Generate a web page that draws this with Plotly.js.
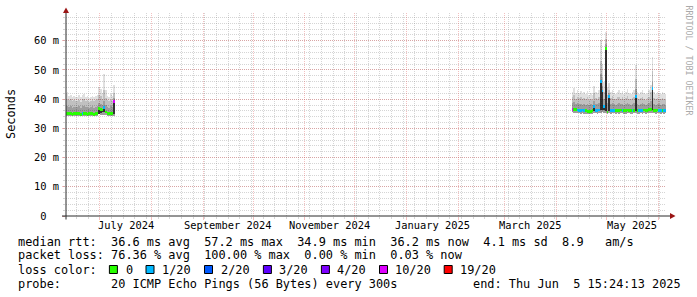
<!DOCTYPE html>
<html><head><meta charset="utf-8">
<script src="https://cdn.plot.ly/plotly-3.0.1.min.js"></script>
<style>html,body{margin:0;padding:0;background:#fff}</style>
</head><body><div id="chart" style="width:697px;height:297px"></div>
<script>
// ---------- DATA (milliseconds, daily bins) ----------
const seg1Start = '2024-06-10';
const seg2Start = '2025-04-10';

const median1 = [35.1,35.0,35.0,35.1,34.9,35.0,35.0,35.1,35.0,34.9,35.2,35.0,35.0,34.9,35.0,35.1,35.0,34.9,35.0,35.1,36.7,36.5,36.3,37.3,35.6,35.1,35.0,35.1,35.1,39.2];
const loss1   = [0,0,0,0,0,0,0,0,0,0,1,0,0,0,0,0,0,0,0,0,0,0,0,1,0,0,0,0,0,5];
const min1    = [34.2,34.2,34.2,34.3,34.2,34.2,34.2,34.3,34.2,34.2,34.3,34.2,34.2,34.2,34.2,34.3,34.2,34.2,34.2,34.3,34.8,34.7,34.6,34.6,34.5,34.4,34.3,34.3,34.3,34.4];
const low1    = [37.5,37.8,37.3,37.6,37.1,37.4,37.2,37.3,37.5,37.0,37.6,37.8,37.2,37.3,37.0,37.2,37.5,37.1,37.3,37.6,38.8,38.5,38.0,39.5,38.0,37.3,37.1,37.5,37.3,40.5];
const mid1    = [39.8,40.2,39.6,39.9,39.3,39.7,39.4,39.5,39.8,39.2,39.9,40.1,39.4,39.6,39.2,39.5,39.8,39.3,39.6,39.9,41.5,41.0,40.2,43.0,40.5,39.6,39.3,39.8,39.5,42.0];
const max1    = [41.6,42.4,41.1,41.3,40.8,41.2,40.6,40.9,41.3,40.7,41.4,41.9,40.8,41.0,40.5,40.9,41.2,40.7,41.0,41.5,44.0,43.5,42.2,48.6,43.0,41.2,40.8,41.6,41.0,44.8];
const coreLo1 = [34.6,34.5,34.5,34.6,34.4,34.5,34.5,34.6,34.5,34.4,34.7,34.5,34.5,34.4,34.5,34.6,34.5,34.4,34.5,34.6,35.0,35.4,35.6,35.5,35.1,34.6,34.5,34.6,34.6,35.0];
const coreHi1 = [35.5,35.4,35.4,35.5,35.3,35.4,35.4,35.5,35.4,35.3,35.6,35.4,35.4,35.3,35.4,35.5,35.4,35.3,35.4,35.5,37.0,36.9,36.7,37.6,36.0,35.5,35.4,35.5,35.5,39.5];

const median2 = [36.6,36.5,36.4,36.3,36.2,36.1,36.3,36.0,36.0,35.8,35.9,35.8,36.0,37.6,36.2,36.1,36.3,45.9,42.8,37.4,57.2,35.6,41.0,36.0,36.1,36.2,36.0,36.2,36.1,36.3,36.2,36.0,36.1,36.3,36.2,36.0,36.1,36.2,41.0,36.0,36.1,36.2,36.0,36.3,36.1,36.2,36.4,36.6,43.7,36.2,36.1,36.3,36.2,36.0,36.2,36.1,36.2];
const loss2   = [5,0,0,1,1,1,1,1,0,0,0,0,0,1,1,1,1,1,1,1,0,0,1,1,1,1,0,0,0,0,1,0,0,0,0,0,1,0,1,0,1,1,1,0,0,0,0,0,1,0,0,0,1,1,0,1,1];
const min2    = [35.6,35.4,35.3,35.2,35.1,35.0,35.2,35.0,34.9,34.8,34.9,34.8,34.9,35.2,35.1,35.0,35.2,35.4,35.5,35.3,35.3,34.9,35.2,35.0,35.1,35.1,35.0,35.1,35.0,35.2,35.1,35.0,35.0,35.2,35.1,35.0,35.0,35.1,35.2,35.0,35.0,35.1,35.0,35.2,35.0,35.1,35.2,35.3,35.3,35.1,35.0,35.2,35.1,35.0,35.1,35.0,35.1];
const low2    = [38.6,38.9,38.3,38.6,38.3,38.5,38.0,38.4,38.0,38.3,37.9,38.2,38.0,39.5,38.4,38.2,38.6,48.5,44.5,40.0,58.8,38.6,42.0,38.3,38.7,38.2,38.0,38.5,38.6,38.2,38.5,38.0,38.3,38.8,38.2,38.0,38.4,38.6,43.5,38.3,38.1,38.4,38.6,38.2,37.9,38.3,38.7,39.5,46.0,38.4,38.1,38.5,38.2,38.0,38.4,38.2,38.1];
const mid2    = [40.6,41.5,40.2,40.9,40.3,40.7,39.9,40.5,40.0,40.8,39.7,40.2,39.8,42.0,40.4,40.1,40.9,53.0,47.5,42.5,60.5,41.5,43.0,40.5,41.0,40.1,40.0,40.6,40.9,40.1,40.7,39.9,40.4,41.2,40.1,40.0,40.5,40.9,47.0,40.3,40.0,40.5,40.9,40.1,39.8,40.3,40.9,42.5,49.5,40.4,40.0,40.5,40.1,40.0,40.5,40.1,40.0];
const max2    = [42.5,43.8,42.0,43.0,42.2,42.8,41.6,42.5,41.8,42.9,41.4,42.1,41.5,44.5,42.3,42.0,43.0,60.2,52.0,46.0,63.0,44.0,45.5,42.5,43.2,42.0,41.8,42.6,43.0,42.0,42.8,41.7,42.4,43.5,42.0,41.8,42.6,43.0,51.7,42.3,41.8,42.5,43.1,42.0,41.6,42.2,43.0,45.0,54.5,42.4,41.9,42.5,42.0,41.8,42.6,42.0,41.8];
const coreLo2 = [36.1,36.0,35.9,35.8,35.7,35.6,35.8,35.5,35.5,35.3,35.4,35.3,35.5,36.0,35.7,35.6,35.8,36.3,36.4,36.2,35.9,35.1,35.8,35.5,35.6,35.7,35.5,35.7,35.6,35.8,35.7,35.5,35.6,35.8,35.7,35.5,35.6,35.7,36.0,35.5,35.6,35.7,35.5,35.8,35.6,35.7,35.9,36.1,36.2,35.7,35.6,35.8,35.7,35.5,35.7,35.6,35.7];
const coreHi2 = [37.0,36.9,36.8,36.7,36.6,36.5,36.7,36.4,36.4,36.2,36.3,36.2,36.4,37.9,36.6,36.5,36.7,46.1,43.0,37.7,57.4,36.0,41.2,36.4,36.5,36.6,36.4,36.6,36.5,36.7,36.6,36.4,36.5,36.7,36.6,36.4,36.5,36.6,41.2,36.4,36.5,36.6,36.4,36.7,36.5,36.6,36.8,37.0,43.9,36.6,36.5,36.7,36.6,36.4,36.6,36.5,36.6];

const lossLabels = ['0','1/20','2/20','3/20','4/20','10/20','19/20'];
const yTickVals  = [0,10,20,30,40,50,60];
const yTickText  = ['0\u00a0\u00a0','10 m','20 m','30 m','40 m','50 m','60 m'];
const xLabelDates = ['2024-07-16 12:00','2024-09-16 00:00','2024-11-16 00:00','2025-01-16 12:00','2025-03-16 12:00','2025-05-16 12:00'];
const xLabelText  = ['July 2024','September 2024','November 2024','January 2025','March 2025','May 2025'];
const rttLine  = 'median rtt:  36.6 ms avg  57.2 ms max  34.9 ms min  36.2 ms now  4.1 ms sd  8.9   am/s';
const lossLine = 'packet loss: 76.36 % avg  100.00 % max  0.00 % min  0.03 % now';
const probeLine = 'probe:       20 ICMP Echo Pings (56 Bytes) every 300s';
const endLine  = 'end: Thu Jun  5 15:24:13 2025';

// ---------- STYLE ----------
const lossColors = ['#26ff00','#00b8ff','#0059ff','#5e00ff','#7e00ff','#dd00ff','#ff0000'];
const DAY = 86400000;
function days(start, n){
  const t0 = Date.parse(start + 'T12:00:00Z'); const out=[];
  for(let i=0;i<n;i++){ out.push(new Date(t0 + i*DAY).toISOString().slice(0,16).replace('T',' ')); }
  return out;
}
const X = days(seg1Start, median1.length).concat(days(seg2Start, median2.length));
const MED = median1.concat(median2), LOSS = loss1.concat(loss2);
const MIN = min1.concat(min2), LOW = low1.concat(low2), MID = mid1.concat(mid2), MAX = max1.concat(max2);
const CLO = coreLo1.concat(coreLo2), CHI = coreHi1.concat(coreHi2);

function band(lo, hi, color){
  return {type:'bar', x:X, base:lo, y:hi.map((h,i)=>h-lo[i]), width:DAY,
    marker:{color:color, line:{width:0}}, hoverinfo:'skip', showlegend:false};
}
const traces = [
  band(MIN, MAX, 'rgba(0,0,0,0.12)'),
  band(MIN, MID, 'rgba(0,0,0,0.14)'),
  band(MIN, LOW, 'rgba(0,0,0,0.18)'),
  band(CLO, CHI, 'rgba(0,0,0,0.68)'),
  {type:'bar', x:X, base:MED.map(v=>v-0.5), y:MED.map(()=>1.0), width:DAY,
   marker:{color:LOSS.map(l=>lossColors[l]), line:{width:0}}, hoverinfo:'skip', showlegend:false}
];

const L=66, T=13, W=600, H=203;
const px = x => (x-L)/W, py = y => (T+H-y)/H;
const mono = 'DejaVu Sans Mono';
const nb = s => s.replace(/ /g,'\u00a0');
const redGrid = 'rgba(222,80,80,0.36)', grayGrid = 'rgba(128,128,128,0.33)';
const axisCol = '#2a2a2a', arrowCol = '#9a1515';

const ann = [];
xLabelDates.forEach((d,i)=>ann.push({xref:'x', yref:'paper', x:d, y:py(225), text:xLabelText[i],
  showarrow:false, xanchor:'center', yanchor:'middle', font:{family:mono, size:10.4, color:'#000'}}));
function leftText(x, y, s, size, color){
  ann.push({xref:'paper', yref:'paper', x:px(x), y:py(y), text:nb(s), showarrow:false,
    xanchor:'left', yanchor:'middle', font:{family:mono, size:size||11.9, color:color||'#000'}});
}
leftText(16, 241.5, rttLine);
leftText(16, 255.5, lossLine);
leftText(16, 269.5, 'loss color:');
leftText(16, 283.5, probeLine);
ann.push({xref:'paper', yref:'paper', x:px(683.5), y:py(283.5), text:nb(endLine), showarrow:false,
  xanchor:'right', yanchor:'middle', font:{family:mono, size:11.9, color:'#000'}});
ann.push({xref:'paper', yref:'paper', x:px(11), y:py(114), text:'Seconds', textangle:-90, showarrow:false,
  xanchor:'center', yanchor:'middle', font:{family:mono, size:11.9, color:'#000'}});
ann.push({xref:'paper', yref:'paper', x:px(688.5), y:py(60), text:nb('RRDTOOL / TOBI OETIKER'), textangle:90, showarrow:false,
  xanchor:'center', yanchor:'middle', font:{family:mono, size:8.3, color:'#aaaaaa'}});

const boxX = [109.4,146,204.5,263.4,321.4,379.5,444.2];
const labX = [124.1,159.8,218.8,276.8,334.8,392.9,457.6];
const shapes = [];
lossLabels.forEach((lab,i)=>{
  shapes.push({type:'rect', xref:'paper', yref:'paper', x0:px(boxX[i]), x1:px(boxX[i]+8), y0:py(265.5), y1:py(273.5),
    fillcolor:lossColors[i], line:{color:'#000', width:1}});
  leftText(labX[i], 269.5, lab);
});
// axes lines and arrows
shapes.push({type:'line', xref:'paper', yref:'paper', x0:px(62), x1:px(670), y0:0, y1:0, line:{color:axisCol, width:1}});
shapes.push({type:'line', xref:'paper', yref:'paper', x0:0, x1:0, y0:py(219.5), y1:py(12), line:{color:axisCol, width:1}});
shapes.push({type:'path', xref:'paper', yref:'paper', fillcolor:arrowCol, line:{width:0},
  path:`M ${px(66)},${py(7.5)} L ${px(63)},${py(13)} L ${px(69)},${py(13)} Z`});
shapes.push({type:'path', xref:'paper', yref:'paper', fillcolor:arrowCol, line:{width:0},
  path:`M ${px(675.5)},${py(216)} L ${px(670)},${py(213)} L ${px(670)},${py(219)} Z`});

const layout = {
  width:697, height:297, margin:{l:L, r:697-L-W, t:T, b:297-T-H, pad:0},
  paper_bgcolor:'#fff', plot_bgcolor:'#fff', barmode:'overlay', bargap:0, showlegend:false,
  xaxis:{type:'date', range:['2024-06-10 15:24:13','2025-06-05 15:24:13'], tickmode:'linear', tick0:'2024-07-01', dtick:'M1',
    showticklabels:false, ticks:'outside', ticklen:3, tickcolor:redGrid, showgrid:true, gridcolor:redGrid, griddash:'1px,1px',
    zeroline:false, showline:false, fixedrange:true,
    minor:{tickmode:'linear', tick0:'2024-06-17', dtick:7*DAY, showgrid:true, gridcolor:grayGrid, griddash:'1px,1px',
      ticks:'outside', ticklen:2, tickcolor:grayGrid}},
  yaxis:{range:[0,69.5], tickmode:'array', tickvals:yTickVals, ticktext:yTickText, ticks:'outside', ticklen:3, tickcolor:redGrid,
    showgrid:true, gridcolor:redGrid, griddash:'1px,1px', zeroline:false, showline:false, fixedrange:true,
    tickfont:{family:mono, size:10.4, color:'#000'}, ticklabelstandoff:1,
    minor:{tickmode:'linear', tick0:0, dtick:2, showgrid:true, gridcolor:grayGrid, griddash:'1px,1px',
      ticks:'outside', ticklen:2, tickcolor:grayGrid}},
  annotations:ann, shapes:shapes
};
Plotly.newPlot('chart', traces, layout, {displayModeBar:false, staticPlot:true});
</script></body></html>
